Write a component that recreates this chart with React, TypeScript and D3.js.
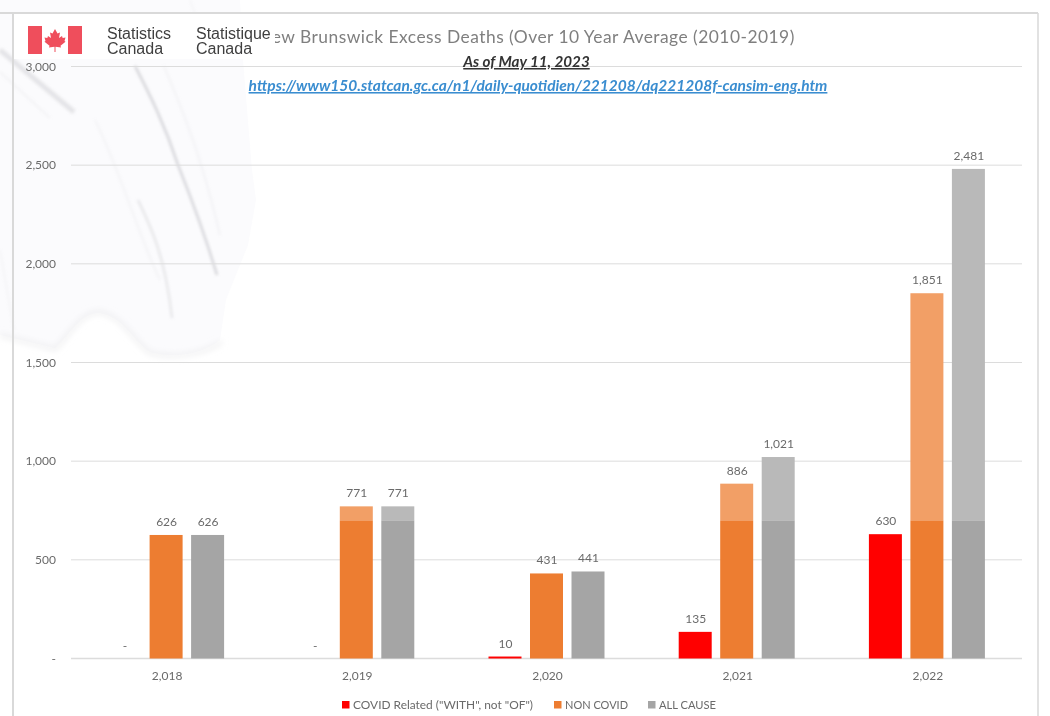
import React from 'react';
import * as d3 from 'd3';

const years = [2018, 2019, 2020, 2021, 2022];
const covidRelated = [0, 0, 10, 135, 630];
const nonCovid = [626, 771, 431, 886, 1851];
const allCause = [626, 771, 441, 1021, 2481];
const tenYearBand = 700; // bars are paler above this level
const yTicks = [0, 500, 1000, 1500, 2000, 2500, 3000];

const FONT = 'Lato, sans-serif';
const LOGO_FONT = '"Liberation Sans", Arial, sans-serif';
const RED = '#FF0000';
const ORANGE = '#ED7D31';
const ORANGE_LIGHT = '#F29F66';
const GREY = '#A5A5A5';
const GREY_LIGHT = '#B9B9B9';
const TEXT = '#6a6a6a';

const width = 1050;
const height = 716;
const margin = { top: 66.5, right: 28, bottom: 57.5, left: 71 };

const series = [
  { name: 'COVID Related ("WITH", not "OF")', values: covidRelated, color: RED, light: RED },
  { name: 'NON COVID', values: nonCovid, color: ORANGE, light: ORANGE_LIGHT },
  { name: 'ALL CAUSE', values: allCause, color: GREY, light: GREY_LIGHT },
];

const legendX = [342, 554, 648];
const legendW = [180, 63, 57];

const x = d3.scaleBand<number>()
  .domain(years)
  .range([margin.left, width - margin.right]);

// three bars 33px wide with a gap of about 8px
const inner = d3.scaleBand<number>()
  .domain([0, 1, 2])
  .range([x.bandwidth() / 2 - 58, x.bandwidth() / 2 + 58])
  .paddingInner(8.5 / 41.5)
  .paddingOuter(0);

const y = d3.scaleLinear()
  .domain([0, 3000])
  .range([height - margin.bottom, margin.top]);

const fmt = d3.format(',');
const label = (v: number) => (v === 0 ? '-' : fmt(v));

const Watermark = () => (
  <g>
    <defs>
      <filter id="soft" x="-20%" y="-20%" width="140%" height="140%">
        <feGaussianBlur stdDeviation="1.6" />
      </filter>
      <filter id="softer" x="-20%" y="-20%" width="140%" height="140%">
        <feGaussianBlur stdDeviation="3" />
      </filter>
    </defs>
    <path
      d="M0,0 L240,0 L243,60 L252,170 L256,200 L248,245 L226,300 L220,340 C200,356 170,358 150,352 C132,340 125,318 100,313 C80,312 70,335 55,348 L0,335 Z"
      fill="#fbfbfd"
    />
    <path
      d="M0,335 L55,349 C70,335 80,312 100,312 C125,318 132,340 150,353 C170,358 200,356 222,342"
      fill="none"
      stroke="#eaeaec"
      strokeWidth={3}
      filter="url(#softer)"
    />
    <g fill="none" stroke="#c4c4c9" filter="url(#soft)">
      <path d="M135,66 C150,95 165,125 178,165 C190,195 205,235 217,275" strokeWidth={2} opacity={0.85} />
      <path d="M138,200 C150,225 165,255 172,318" strokeWidth={1.6} opacity={0.55} />
      <path d="M164,66 C180,105 200,150 220,235" strokeWidth={1} opacity={0.3} />
      <path d="M0,50 L74,112" strokeWidth={5} opacity={0.4} />
      <path d="M0,72 L50,118 M95,120 C120,170 140,240 160,280" strokeWidth={1.2} opacity={0.22} />
      <path d="M190,0 L195,14 M0,250 L14,330" strokeWidth={1} opacity={0.2} />
    </g>
  </g>
);

const Logo = () => (
  <g>
    <rect x={14} y={14} width={261} height={45} fill="#ffffff" />
    <rect x={28} y={26} width={14} height={28} fill="#EF4E5C" />
    <rect x={68} y={26} width={14} height={28} fill="#EF4E5C" />
    <path
      d="M55,29 L57.5,33.5 L60,32.5 L59,38 L62,36 L62.7,38 L65.5,37.5 L64.5,41 L65.5,41.7 L60.5,45.7 L61,47.5 L55.5,46.8 L55.5,52 L54.5,52 L54.5,46.8 L49,47.5 L49.5,45.7 L44.5,41.7 L45.5,41 L44.5,37.5 L47.3,38 L48,36 L51,38 L50,32.5 L52.5,33.5 Z"
      fill="#EF4E5C"
    />
    <g fontFamily={LOGO_FONT} fontSize={16} fill="#3f3f3f">
      <text x={107} y={38.5}>Statistics</text>
      <text x={107} y={53.5}>Canada</text>
      <text x={196} y={38.5}>Statistique</text>
      <text x={196} y={53.5}>Canada</text>
    </g>
  </g>
);

const App = () => (
  <svg
    width={width}
    height={height}
    style={{ position: 'absolute', left: 0, top: 0, background: '#fff' }}
  >
    <Watermark />

    {/* frame of the pasted chart */}
    <g stroke="#d9d9d9" fill="none">
      <line x1={0} x2={1038} y1={13} y2={13} strokeWidth={2} />
      <line x1={13} x2={13} y1={13} y2={height} strokeWidth={2} />
      <line x1={1038} x2={1038} y1={13} y2={height} strokeWidth={1.5} />
    </g>

    {/* grid and y axis */}
    {yTicks.map(t => (
      <g key={t}>
        <line
          x1={margin.left}
          x2={width - margin.right}
          y1={y(t)}
          y2={y(t)}
          stroke="#dcdcdc"
          strokeWidth={t === 0 ? 1.5 : 1}
        />
        <text x={56} y={y(t) + 4} textAnchor="end" fontFamily={FONT} fontSize={12} fill={TEXT}>
          {label(t)}
        </text>
      </g>
    ))}

    {/* title, its first letter sits under the logo */}
    <text x={526.5} y={43} textAnchor="middle" fontFamily={FONT} fontSize={17.4} letterSpacing={0.48} fill="#7f7f7f">
      New Brunswick Excess Deaths (Over 10 Year Average (2010-2019)
    </text>
    <Logo />
    <text x={526.5} y={67} textAnchor="middle" fontFamily={FONT} fontSize={15.2} fontWeight={700} fontStyle="italic" textDecoration="underline" fill="#333333">
      As of May 11, 2023
    </text>
    <text x={538} y={91} textAnchor="middle" fontFamily={FONT} fontSize={15.5} fontWeight={700} fontStyle="italic" textDecoration="underline" fill="#3A8DD0">
      https://www150.statcan.gc.ca/n1/daily-quotidien/221208/dq221208f-cansim-eng.htm
    </text>

    {/* bars */}
    {years.map((year, i) => (
      <g key={year} transform={`translate(${x(year)},0)`}>
        {series.map((s, j) => {
          const v = s.values[i];
          const bx = inner(j) as number;
          const bw = inner.bandwidth();
          const top = y(v);
          const base = y(Math.min(v, tenYearBand));
          return (
            <g key={s.name}>
              {v > tenYearBand && (
                <rect x={bx} y={top} width={bw} height={base - top} fill={s.light} />
              )}
              {v > 0 && <rect x={bx} y={base} width={bw} height={y(0) - base} fill={s.color} />}
              <text
                x={bx + bw / 2 + 0.5}
                y={top - 9}
                textAnchor="middle"
                fontFamily={FONT}
                fontSize={12}
                fill={TEXT}
              >
                {label(v)}
              </text>
            </g>
          );
        })}
        <text
          x={x.bandwidth() / 2 + 1}
          y={679.5}
          textAnchor="middle"
          fontFamily={FONT}
          fontSize={12}
          fill={TEXT}
        >
          {fmt(year)}
        </text>
      </g>
    ))}

    {/* legend */}
    {series.map((s, j) => (
      <g key={s.name}>
        <rect x={legendX[j]} y={701} width={7.5} height={7.5} fill={s.color} />
        <text
          x={legendX[j] + 11}
          y={708.5}
          fontFamily={FONT}
          fontSize={12}
          fill={TEXT}
          textLength={legendW[j]}
          lengthAdjust="spacingAndGlyphs"
        >
          {s.name}
        </text>
      </g>
    ))}
  </svg>
);

export default App;
